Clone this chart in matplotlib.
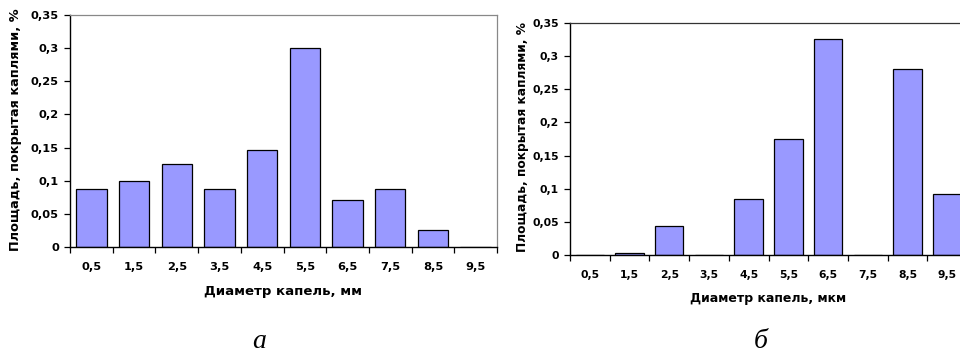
import numpy as np
import matplotlib
matplotlib.use("Agg")
import matplotlib.pyplot as plt

categories = ["0,5", "1,5", "2,5", "3,5", "4,5", "5,5", "6,5", "7,5", "8,5", "9,5"]
area_mm = [0.088, 0.100, 0.125, 0.088, 0.147, 0.300, 0.071, 0.088, 0.025, 0.0]
area_mkm = [0.0, 0.0035, 0.043, 0.0, 0.084, 0.175, 0.326, 0.0, 0.280, 0.092]
yticks = [0, 0.05, 0.1, 0.15, 0.2, 0.25, 0.3, 0.35]
ytick_labels = ["0", "0,05", "0,1", "0,15", "0,2", "0,25", "0,3", "0,35"]
xlabel_a = "Диаметр капель, мм"
xlabel_b = "Диаметр капель, мкм"
ylabel = "Площадь, покрытая каплями, %"

plt.rcParams['font.family'] = ['DejaVu Sans']

W, H = 960, 354
fig = plt.figure(figsize=(W / 100, H / 100), dpi=100)

def make_ax(left, top, right, bottom):
    return fig.add_axes([left / W, 1 - bottom / H, (right - left) / W, (bottom - top) / H])

def style(ax, values, xlabel, frame_color, xl_coords, yl_coords, scale):
    x = np.arange(len(categories))
    ax.bar(x, values, width=0.714, color="#9999FF", edgecolor="black", linewidth=0.9, zorder=2)
    ax.set_xlim(-0.5, len(categories) - 0.5)
    ax.set_ylim(0, 0.35)
    ax.set_xticks(x)
    ax.set_xticklabels(categories, fontsize=8.2 * scale, fontweight="bold")
    ax.set_xticks(np.arange(-0.5, len(categories)), minor=True)
    ax.tick_params(axis="x", which="major", length=0, pad=11)
    ax.tick_params(axis="x", which="minor", length=4, width=0.9, direction="out")
    ax.set_yticks(yticks)
    ax.set_yticklabels(ytick_labels, fontsize=8.2 * scale, fontweight="bold")
    ax.tick_params(axis="y", length=4, width=0.9, direction="out", pad=4)
    for s in ("left", "bottom"):
        ax.spines[s].set_color("black")
        ax.spines[s].set_linewidth(1.0)
    for s in ("top", "right"):
        ax.spines[s].set_color(frame_color)
        ax.spines[s].set_linewidth(0.9)
    ax.set_xlabel(xlabel, fontsize=9.5 * scale, fontweight="bold")
    ax.xaxis.set_label_coords(*xl_coords)
    ax.set_ylabel(ylabel, fontsize=9.3 * scale, fontweight="bold")
    ax.yaxis.set_label_coords(*yl_coords)

ax1 = make_ax(70, 15, 497, 247)
style(ax1, area_mm, xlabel_a, "#888888", (0.5, -0.165), (-0.113, 0.504), 1.0)

ax2 = make_ax(570, 23, 967, 255)
style(ax2, area_mkm, xlabel_b, "#333333", (0.5, -0.16), (-0.103, 0.509), 0.95)

fig.text(259 / W, 1 - 348 / H, "а", fontsize=20, fontstyle="italic",
         family=["Liberation Serif", "DejaVu Serif"], ha="center", va="baseline")
fig.text(761 / W, 1 - 348 / H, "б", fontsize=20, fontstyle="italic",
         family=["Liberation Serif", "DejaVu Serif"], ha="center", va="baseline")

fig.savefig("out.png", dpi=100)
